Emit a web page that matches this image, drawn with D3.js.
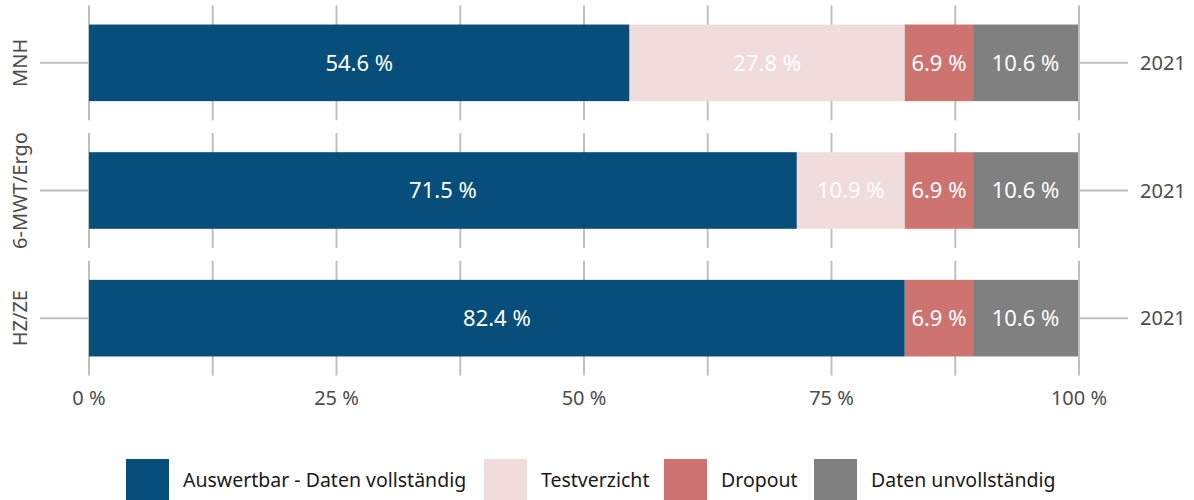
<!DOCTYPE html>
<html lang="en">
<head>
<meta charset="utf-8"/>
<title>Auswertbarkeit</title>
<script src="https://d3js.org/d3.v7.min.js"></script>
<style>
  body { margin: 0; background: #fff; }
  text { font-family: "Noto Sans", "Open Sans", sans-serif; }
</style>
</head>
<body>
<svg id="chart" width="1194" height="500"></svg>
<script>
// data
const tests = ["MNH", "6-MWT/Ergo", "HZ/ZE"]
const years = ["2021", "2021", "2021"]
const groups = ["Auswertbar - Daten vollständig", "Testverzicht", "Dropout", "Daten unvollständig"]
const colors = ["#074e7a", "#f0dcdc", "#cd7471", "#808080"]
const auswertbar = [54.6, 71.5, 82.4]
const testverzicht = [27.8, 10.9, 0]
const dropout = [6.9, 6.9, 6.9]
const unvollstaendig = [10.6, 10.6, 10.6]
const xTicks = [0, 25, 50, 75, 100]
const xMinor = [12.5, 37.5, 62.5, 87.5]

const svg = d3.select("#chart")
const x = d3.scaleLinear().domain([0, 100]).range([89, 1079])
const y = d3.scaleBand().domain(tests).range([-1, 382])
const color = d3.scaleOrdinal().domain(groups).range(colors)
const grid = "#c0c0c0"
const axisText = "#4d4d4d"

const rows = tests.map((t, i) => ({
  test: t, year: years[i],
  [groups[0]]: auswertbar[i], [groups[1]]: testverzicht[i],
  [groups[2]]: dropout[i], [groups[3]]: unvollstaendig[i]
}))
const series = d3.stack().keys(groups)(rows)

const half = y.step() * 0.45
const barH = y.step() * 0.6
const mid = d => y(d) + y.bandwidth() / 2

// gridlines per panel
const panel = svg.append("g").selectAll("g").data(tests).join("g")
  .attr("transform", d => `translate(0,${mid(d)})`)
panel.selectAll("line").data(xTicks.concat(xMinor)).join("line")
  .attr("x1", d => x(d)).attr("x2", d => x(d))
  .attr("y1", -half).attr("y2", half)
  .attr("stroke", grid).attr("stroke-width", 2)

// y ticks on both sides
panel.append("line").attr("x1", 40).attr("x2", x(0)).attr("stroke", grid).attr("stroke-width", 2)
panel.append("line").attr("x1", x(100)).attr("x2", 1128).attr("stroke", grid).attr("stroke-width", 2)

// left labels, clipped to the panel height
const defs = svg.append("defs")
tests.forEach((t, i) => {
  defs.append("clipPath").attr("id", "clip" + i).append("rect")
    .attr("x", 0).attr("y", mid(t) - half).attr("width", 40).attr("height", 2 * half)
})
svg.append("g").selectAll("g").data(tests).join("g")
  .attr("clip-path", (d, i) => `url(#clip${i})`)
  .append("text")
  .attr("transform", d => `translate(27,${mid(d)}) rotate(-90)`)
  .attr("text-anchor", "middle")
  .attr("font-size", 20).attr("fill", axisText)
  .text(d => d)

svg.append("g").selectAll("text").data(rows).join("text")
  .attr("x", 1140).attr("y", d => mid(d.test))
  .attr("dy", "0.35em").attr("font-size", 20).attr("fill", axisText)
  .text(d => d.year)

// bars
const layer = svg.append("g").selectAll("g").data(series).join("g")
  .attr("fill", d => color(d.key))
layer.selectAll("rect").data(d => d.filter(s => s[1] - s[0] > 0)).join("rect")
  .attr("x", d => x(d[0])).attr("width", d => x(d[1]) - x(d[0]))
  .attr("y", d => mid(d.data.test) - barH / 2).attr("height", barH)
layer.selectAll("text").data(d => d.filter(s => s[1] - s[0] > 0)).join("text")
  .attr("x", d => (x(d[0]) + x(d[1])) / 2)
  .attr("y", d => mid(d.data.test))
  .attr("dy", "0.35em").attr("text-anchor", "middle")
  .attr("font-size", 22).attr("fill", "#fff")
  .text(d => (d[1] - d[0]).toFixed(1) + " %")

// x axis labels
svg.append("g").selectAll("text").data(xTicks).join("text")
  .attr("x", d => x(d)).attr("y", 398).attr("dy", "0.35em")
  .attr("text-anchor", "middle").attr("font-size", 20).attr("fill", axisText)
  .text(d => d + " %")

// legend
const legX = [126, 484, 664, 814]
const leg = svg.append("g").selectAll("g").data(groups).join("g")
  .attr("transform", (d, i) => `translate(${legX[i]},459)`)
leg.append("rect").attr("width", 43).attr("height", 43).attr("fill", d => color(d))
leg.append("text").attr("x", 57).attr("y", 21).attr("dy", "0.35em")
  .attr("font-size", 19.5).attr("fill", "#1a1a1a").text(d => d)
</script>
</body>
</html>
